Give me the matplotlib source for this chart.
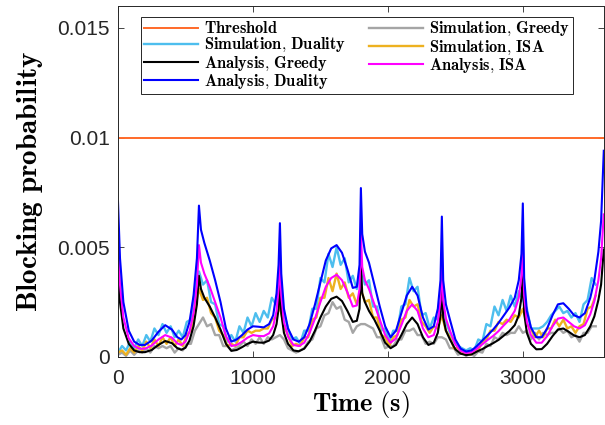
import numpy as np
import matplotlib
matplotlib.use('Agg')
import matplotlib.pyplot as plt

plt.rcParams['mathtext.fontset'] = 'cm'
plt.rcParams['font.family'] = ['Liberation Sans', 'DejaVu Sans']

SCALE = 1e-4  # all series below are stored in units of 1e-4

threshold = 0.01

# simulated blocking probability, sampled every 30 s
sim_t = np.arange(0, 3541, 30)
sim_duality = [
    2, 5, 3, 7, 4, 8, 5, 10, 7, 13, 10, 15, 11, 14, 9, 12, 9, 16, 17, 31,
    39, 33, 35, 25, 24, 15, 14, 7, 10, 7, 14, 11, 18, 14, 20, 16, 21, 18, 27, 24,
    31, 20, 13, 8, 9, 6, 12, 12, 22, 22, 36, 34, 47, 41, 50, 42, 45, 34, 37, 31,
    41, 33, 35, 23, 23, 12, 13, 7, 12, 12, 23, 24, 36, 30, 32, 19, 20, 13, 18, 17,
    27, 16, 11, 7, 5, 4, 3, 4, 3, 8, 7, 15, 14, 23, 19, 26, 21, 28, 23, 30,
    26, 22, 13, 13, 13, 14, 16, 19, 21, 23, 20, 21, 18, 20, 16, 24, 26, 36, 33]
sim_isa = [
    2, 3, 1, 4, 2, 5, 3, 7, 4, 8, 5, 9, 6, 9, 5, 8, 5, 10, 12, 22,
    31, 26, 27, 20, 18, 12, 10, 5, 6, 5, 9, 9, 12, 11, 12, 12, 13, 13, 17, 18,
    23, 14, 10, 5, 6, 5, 9, 9, 17, 18, 27, 27, 36, 30, 38, 31, 34, 27, 29, 24,
    31, 25, 26, 18, 18, 10, 9, 5, 9, 10, 17, 18, 26, 23, 24, 16, 14, 11, 14, 13,
    19, 12, 9, 4, 4, 2, 2, 1, 3, 3, 7, 8, 12, 12, 16, 15, 17, 16, 19, 18,
    22, 15, 13, 9, 12, 9, 13, 13, 17, 14, 17, 13, 14, 11, 14, 15, 22, 23, 28]
sim_greedy = [
    1, 2, 0.5, 3, 1, 3, 2, 4, 2, 5, 4, 5, 4, 5, 2, 4, 3, 6, 6, 12,
    15, 18, 14, 15, 10, 10, 5, 5, 3, 4, 5, 7, 5, 8, 6, 9, 6, 9, 8, 9,
    10, 8, 4, 3, 2, 3, 4, 7, 8, 13, 14, 19, 20, 25, 22, 23, 17, 16, 11, 14,
    15, 15, 14, 13, 9, 9, 4, 5, 5, 8, 8, 12, 12, 13, 10, 10, 6, 7, 6, 9,
    9, 8, 4, 4, 1, 2, 0.5, 1.5, 0.5, 2.5, 2, 6, 5, 9, 8, 11, 10, 11, 11, 14,
    11, 12, 8, 11, 8, 11, 10, 11, 11, 13, 11, 12, 9, 10, 7, 11, 11, 14, 14]

# analytical blocking probability
ana_t = [
    0, 15, 40, 80, 120, 160, 200, 250, 300, 350, 400, 440, 470, 500, 530, 560, 585,
    600, 615, 640, 680, 720, 760, 800, 840, 880, 920, 960, 1000, 1040, 1080, 1120,
    1150, 1175, 1190, 1200, 1210, 1230, 1260, 1300, 1340, 1380, 1420, 1460, 1500,
    1540, 1580, 1620, 1660, 1700, 1740, 1770, 1790, 1800, 1810, 1830, 1860, 1900,
    1940, 1980, 2020, 2060, 2100, 2140, 2180, 2220, 2260, 2300, 2340, 2370, 2390,
    2400, 2410, 2430, 2460, 2500, 2540, 2580, 2620, 2660, 2700, 2740, 2780, 2820,
    2860, 2900, 2940, 2970, 2990, 3000, 3010, 3030, 3060, 3100, 3140, 3180, 3220,
    3260, 3300, 3340, 3380, 3420, 3460, 3500, 3530, 3560, 3580, 3600]
ana_duality = [
    71, 45, 25, 12, 7, 5.5, 5.5, 7.5, 11.5, 14.5, 12.5, 9, 8, 10, 16, 28, 45,
    69, 58, 52, 44, 35, 25, 13, 7, 8, 10, 12.5, 14, 13.8, 13.5, 15,
    19, 29, 42, 61, 38, 22, 13, 8, 7, 9, 15, 24, 34,
    44, 49.5, 51, 47.5, 40, 31.5, 32, 42, 77, 56, 48, 43, 33,
    23, 14, 9, 12, 20, 28, 32, 28, 18, 12.5, 14, 22, 35,
    64, 35, 24, 17, 8, 3.8, 2.5, 3, 5, 7.5, 10, 12.5, 15.5,
    19, 22.5, 27, 35, 47, 70, 36, 21, 13.5, 9, 9, 13, 19,
    24, 24.5, 22, 19, 18, 20, 27, 35, 48, 62, 94]
ana_isa = [
    52, 33, 18, 8.5, 5, 3.8, 3.8, 5.2, 8, 10, 8.8, 6.2, 5.5, 7, 11.5, 20, 33,
    51, 43, 38, 32, 25, 18, 9.5, 5, 5.5, 7, 8.8, 10, 9.6, 9.5, 10.8,
    14, 21, 31, 45, 28, 16, 9.3, 5.5, 5, 6.5, 11, 17.5, 25,
    32, 36, 37.5, 35, 29.5, 23, 23.5, 31, 57, 41, 35, 31, 24,
    17, 10, 6.5, 8.5, 14.5, 21, 24, 21, 13, 9, 10, 16, 26,
    47, 26, 17.5, 12, 5.8, 2.8, 1.8, 2.2, 3.8, 5.8, 7.8, 9.6, 11.8,
    14.5, 17, 21, 27, 37, 54, 28, 16, 10, 6.5, 6.5, 9.5, 14,
    17.5, 18, 16, 14, 13, 14.5, 19.5, 25.5, 35, 45, 65]
ana_greedy = [
    41, 25, 13, 6, 3, 2.2, 2.2, 3.2, 5.5, 7.3, 6.3, 4, 3.3, 4.2, 7.5, 14, 24,
    37, 31, 27, 23, 18, 12.5, 6, 2.8, 3.2, 4.5, 6, 7, 6.6, 6.5, 7.5,
    10, 15, 22, 33, 20, 11, 6, 3, 2.6, 3.8, 7, 12, 18,
    23, 26.5, 27.5, 25.5, 21, 16, 16.5, 22, 42, 29, 25, 21, 17,
    12, 6.5, 4, 5.5, 10, 15, 18, 15, 9, 5.5, 6.5, 11, 19,
    34, 18, 12, 8, 3.5, 1.5, 0.9, 1.2, 2.5, 3.6, 5, 6.3, 7.8,
    9.8, 11.8, 14.5, 19, 27, 38, 20, 11, 6, 3.5, 3.6, 6, 9.5,
    12.5, 13, 11.5, 9.8, 9, 10, 14, 18.5, 26, 33, 49]


def bold(s):
    s = s.replace(',', '{,}').replace(' ', r'\ ')
    return r'$\mathbf{' + s + '}$'


fig = plt.figure(figsize=(6.05, 4.25), dpi=100)
ax = fig.add_axes([0.195, 0.16, 0.803, 0.826])

h_thr, = ax.plot([0, 3600], [threshold, threshold], color='#FF6929', lw=1.4)
h_sg, = ax.plot(sim_t, np.array(sim_greedy) * SCALE, color='#A5A5A5', lw=1.7)
h_sd, = ax.plot(sim_t, np.array(sim_duality) * SCALE, color='#4DBEEE', lw=1.7)
h_si, = ax.plot(sim_t, np.array(sim_isa) * SCALE, color='#EDB120', lw=1.7)
h_ag, = ax.plot(ana_t, np.array(ana_greedy) * SCALE, color='black', lw=1.5)
h_ai, = ax.plot(ana_t, np.array(ana_isa) * SCALE, color='#FF00FF', lw=1.5)
h_ad, = ax.plot(ana_t, np.array(ana_duality) * SCALE, color='#0000FF', lw=1.5)

ax.set_xlim(0, 3600)
ax.set_ylim(0, 0.016)
ax.set_xticks([0, 1000, 2000, 3000])
ax.set_yticks([0, 0.005, 0.01, 0.015])
ax.set_yticklabels(['0', '0.005', '0.01', '0.015'])
ax.tick_params(direction='in', top=True, right=True, labelsize=15,
               length=4, width=0.6, colors='#262626')
ax.tick_params(axis='x', pad=9)
ax.tick_params(axis='y', pad=6)
for sp in ax.spines.values():
    sp.set_color('#262626')
    sp.set_linewidth(0.7)

ax.set_xlabel(bold('Time (s)'), fontsize=19, labelpad=0)
ax.set_ylabel(bold('Blocking probability'), fontsize=21, labelpad=9)

handles = [h_thr, h_sd, h_ag, h_ad, h_sg, h_si, h_ai]
labels = ['Threshold', 'Simulation, Duality', 'Analysis, Greedy', 'Analysis, Duality',
          'Simulation, Greedy', 'Simulation, ISA', 'Analysis, ISA']
leg = ax.legend(handles, [bold(l) for l in labels], ncol=2, fontsize=11.8,
                loc='upper left', bbox_to_anchor=(141 / 605, 1 - 17 / 425),
                bbox_transform=fig.transFigure, borderaxespad=0,
                fancybox=False, framealpha=1, edgecolor='#262626',
                handlelength=3.3, handletextpad=0.35, columnspacing=1.4,
                labelspacing=0.0, borderpad=0.2)
leg.get_frame().set_linewidth(0.7)

fig.savefig('out.png', dpi=100)
